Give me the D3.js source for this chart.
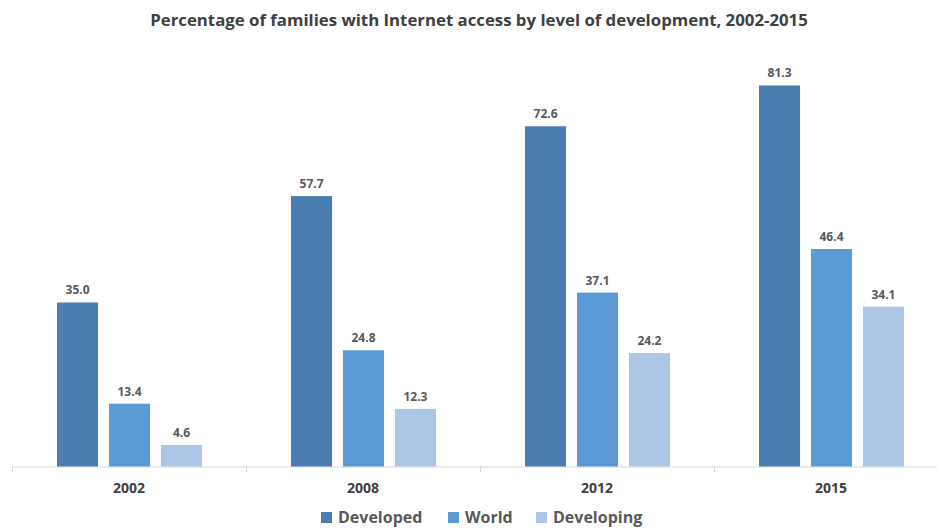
<!DOCTYPE html>
<meta charset="utf-8">
<script src="https://d3js.org/d3.v7.min.js"></script>
<style>
body { margin: 0; background: #fff; font-family: "Open Sans", Arial, sans-serif; }
</style>
<body>
<script>

// chart data
var years = ["2002", "2008", "2012", "2015"];
var seriesNames = ["Developed", "World", "Developing"];
var developed = [35.0, 57.7, 72.6, 81.3];
var world = [13.4, 24.8, 37.1, 46.4];
var developing = [4.6, 12.3, 24.2, 34.1];
var colors = ["#4a7eb0", "#5b9bd5", "#adc6e6"];

var width = 937, height = 529;
var series = [developed, world, developing];

var svg = d3.select("body").append("svg")
    .attr("width", width)
    .attr("height", height);

svg.append("text")
    .attr("x", 479)
    .attr("y", 26)
    .attr("text-anchor", "middle")
    .attr("font-size", "16.8px")
    .attr("font-weight", "bold")
    .attr("fill", "#404040")
    .text("Percentage of families with Internet access by level of development, 2002-2015");

var x = d3.scaleBand()
    .domain(years)
    .range([12, 948]);

var inner = d3.scaleBand()
    .domain(seriesNames)
    .range([45, 190])
    .paddingInner(0.21);

var y = d3.scaleLinear()
    .domain([0, 90])
    .range([466.5, 44.7]);

// axis
var axis = svg.append("g")
    .attr("transform", "translate(0,466.5)")
    .call(d3.axisBottom(x).tickSize(0).tickPadding(0).tickFormat(""));
axis.select(".domain").attr("stroke", "#d9d9d9");

svg.selectAll(".sep")
    .data(years)
    .enter().append("line")
    .attr("x1", function(d) { return x(d) + 0.5; })
    .attr("x2", function(d) { return x(d) + 0.5; })
    .attr("y1", 466.5)
    .attr("y2", 472)
    .attr("stroke", "#d9d9d9");

svg.selectAll(".year")
    .data(years)
    .enter().append("text")
    .attr("x", function(d) { return x(d) + x.bandwidth() / 2; })
    .attr("y", 493)
    .attr("text-anchor", "middle")
    .attr("font-size", "14px")
    .attr("font-weight", "bold")
    .attr("fill", "#404040")
    .text(function(d) { return d; });

// bars
var groups = svg.selectAll(".series")
    .data(series)
    .enter().append("g")
    .attr("fill", function(d, i) { return colors[i]; });

groups.each(function(vals, si) {
    var g = d3.select(this);
    g.selectAll("rect")
        .data(vals)
        .enter().append("rect")
        .attr("x", function(d, i) { return x(years[i]) + inner(seriesNames[si]); })
        .attr("y", function(d) { return y(d); })
        .attr("width", inner.bandwidth())
        .attr("height", function(d) { return y(0) - y(d); });

    g.selectAll("text")
        .data(vals)
        .enter().append("text")
        .attr("x", function(d, i) { return x(years[i]) + inner(seriesNames[si]) + inner.bandwidth() / 2; })
        .attr("y", function(d) { return y(d) - 8; })
        .attr("text-anchor", "middle")
        .attr("font-size", "12px")
        .attr("font-weight", "bold")
        .attr("fill", "#595959")
        .text(function(d) { return d.toFixed(1); });
});

// legend
var legendX = [321, 448, 536];
var legend = svg.selectAll(".legend")
    .data(seriesNames)
    .enter().append("g")
    .attr("transform", function(d, i) { return "translate(" + legendX[i] + ",512)"; });

legend.append("rect")
    .attr("width", 11)
    .attr("height", 11)
    .attr("fill", function(d, i) { return colors[i]; });

legend.append("text")
    .attr("x", 17)
    .attr("y", 11)
    .attr("font-size", "16px")
    .attr("font-weight", "bold")
    .attr("fill", "#595959")
    .text(function(d) { return d; });

</script>
</body>
